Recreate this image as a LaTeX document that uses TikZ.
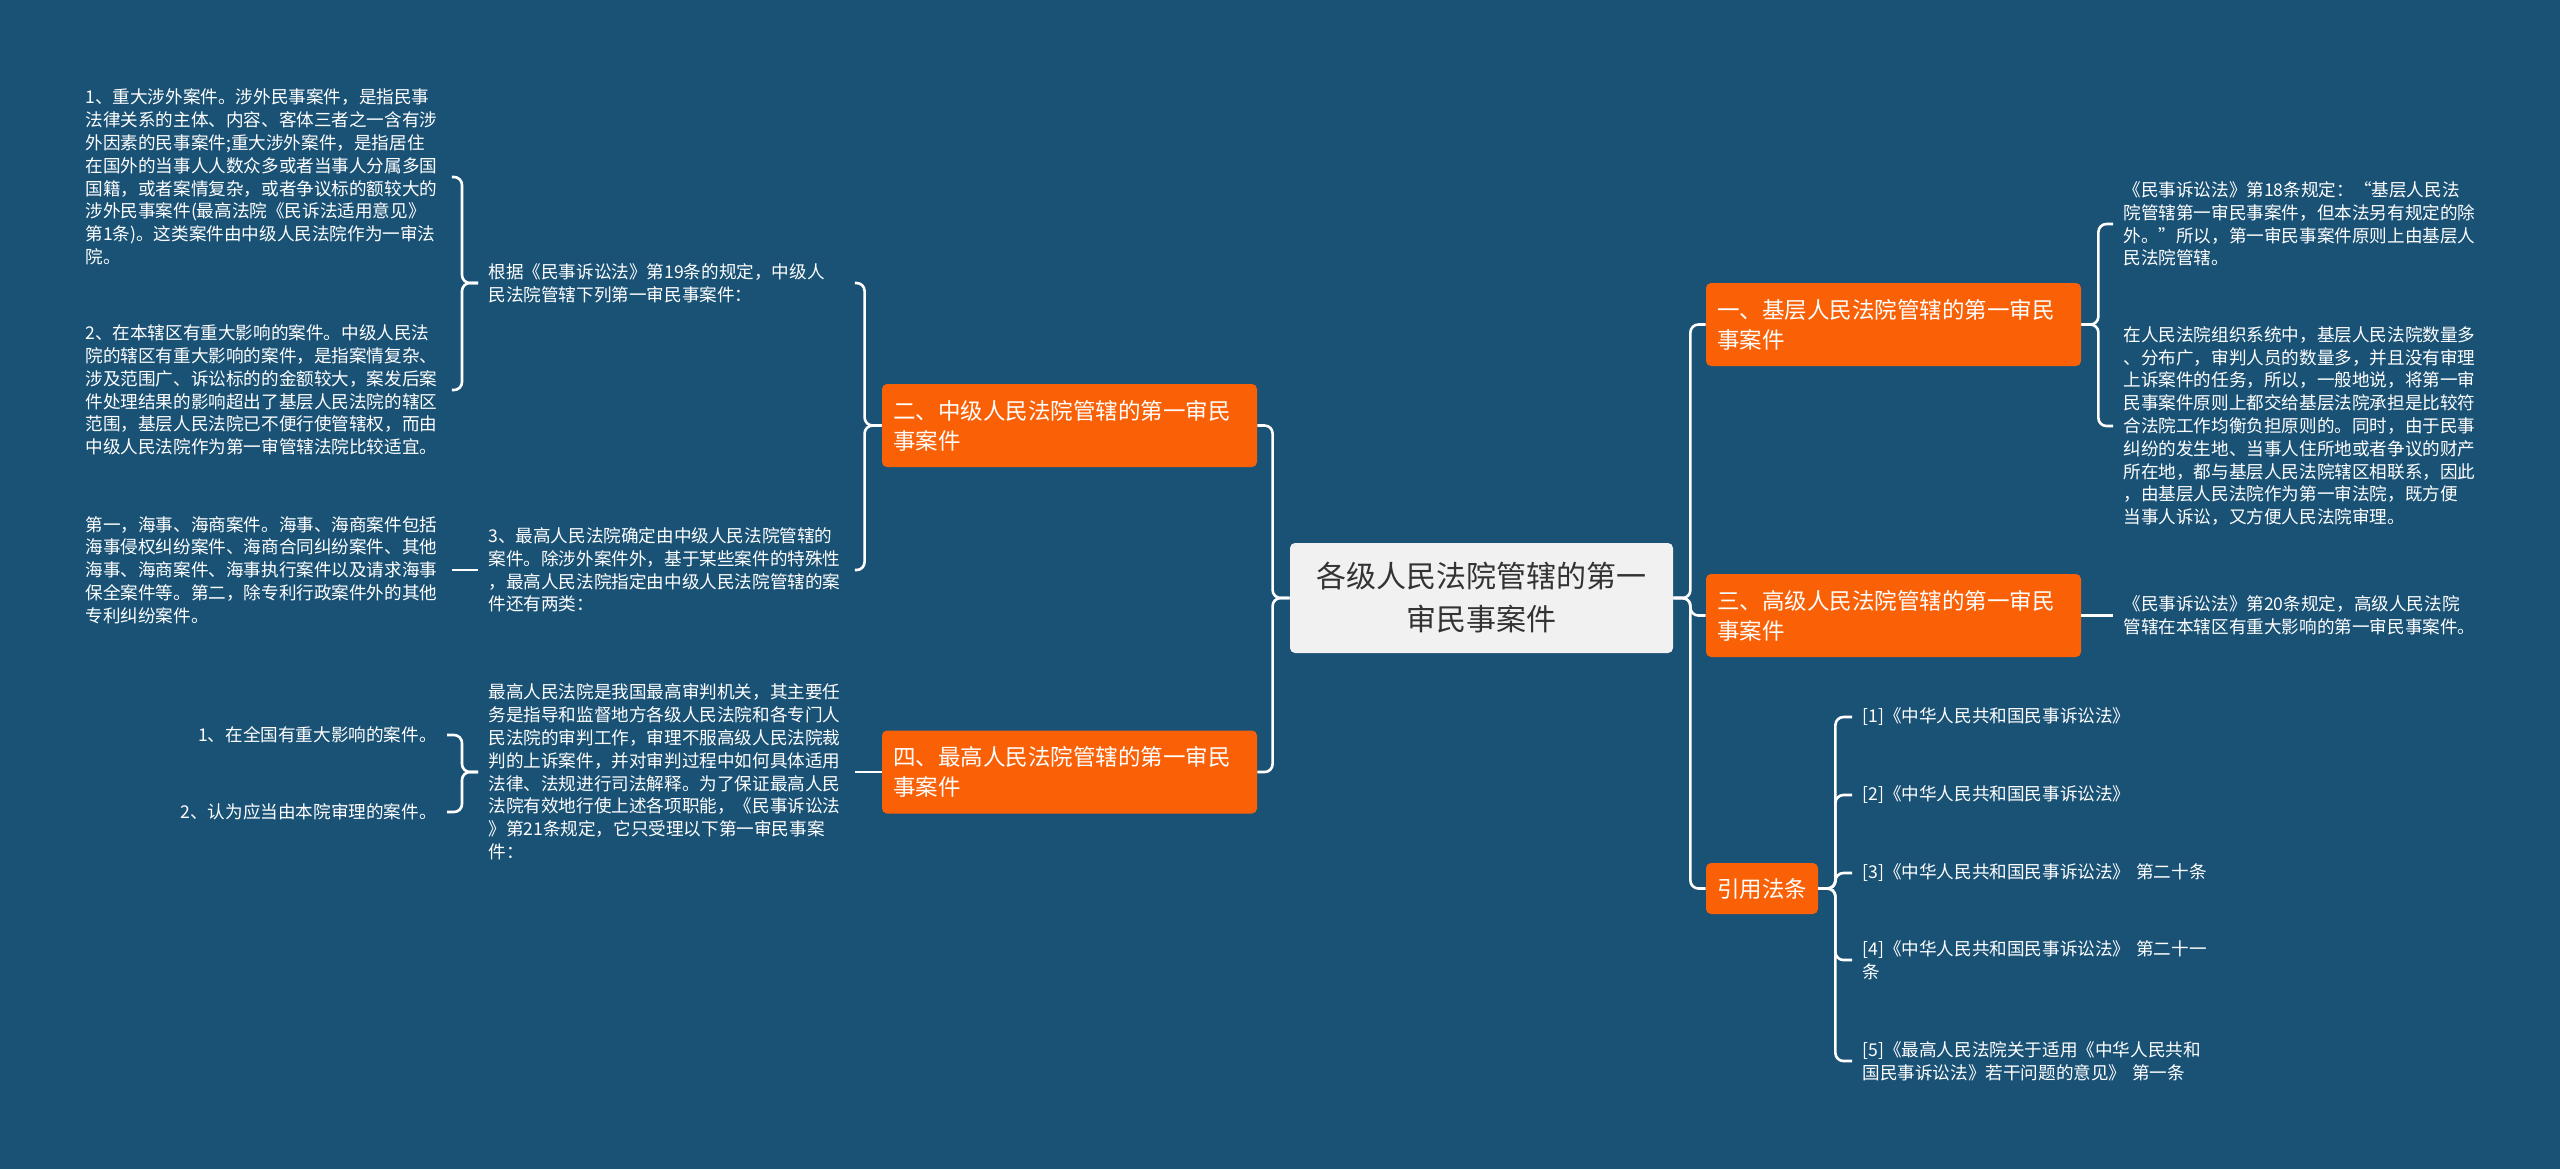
\documentclass[tikz,border=0pt]{standalone}
\usepackage{fontspec}
\setmainfont{Noto Sans CJK SC}
\usepackage{tikz}
\usetikzlibrary{positioning}
\usepackage{xcolor}
\definecolor{bgblue}{RGB}{26,82,118}
\definecolor{branchorange}{RGB}{250,96,6}
\definecolor{rootgray}{RGB}{241,241,241}
\definecolor{roottext}{RGB}{51,51,51}

\begin{document}
\begin{tikzpicture}[
    x=0.5pt, y=-0.5pt,
    root/.style={fill=rootgray, rounded corners=2.5pt, text=roottext, minimum width=191.5pt, minimum height=55pt, align=center, font=\fontsize{15}{21.5}\selectfont},
    branch/.style={fill=branchorange, rounded corners=2.5pt, text=white, inner xsep=5.5pt, minimum height=41.5pt, align=left, font=\fontsize{11.25}{15}\selectfont},
    wide/.style={text width=176.5pt},
    leaf/.style={text=white, inner xsep=5pt, align=left, font=\fontsize{8.8}{11.4}\selectfont},
    para/.style={leaf, text width=178pt},
    link/.style={draw=white, line width=1.3pt, rounded corners=4pt}
]

\fill[bgblue] (0,0) rectangle (2560,1169);

\node[root] (law) at (1481.5,598) {各级人民法院管辖的第一\\审民事案件};

\node[branch, wide] (mid) at (1069.5,425.5) {二、中级人民法院管辖的第一审民\\事案件};
\node[branch, wide] (top) at (1069.5,772) {四、最高人民法院管辖的第一审民\\事案件};
\node[branch, wide] (base) at (1893.5,324.5) {一、基层人民法院管辖的第一审民\\事案件};
\node[branch, wide] (high) at (1893.5,615.5) {三、高级人民法院管辖的第一审民\\事案件};
\node[branch, minimum height=25.5pt] (cite) at (1762,888.5) {引用法条};

\node[para, anchor=west] (art19) at (478,283) {根据《民事诉讼法》第19条的规定，中级人\\民法院管辖下列第一审民事案件：};
\node[para, anchor=west] (assign) at (478,570) {3、最高人民法院确定由中级人民法院管辖的\\案件。除涉外案件外，基于某些案件的特殊性\\，最高人民法院指定由中级人民法院管辖的案\\件还有两类：};
\node[para, anchor=west] (supreme) at (478,772) {最高人民法院是我国最高审判机关，其主要任\\务是指导和监督地方各级人民法院和各专门人\\民法院的审判工作，审理不服高级人民法院裁\\判的上诉案件，并对审判过程中如何具体适用\\法律、法规进行司法解释。为了保证最高人民\\法院有效地行使上述各项职能，《民事诉讼法\\》第21条规定，它只受理以下第一审民事案\\件：};

\node[para, anchor=west] (foreign) at (75,177) {1、重大涉外案件。涉外民事案件，是指民事\\法律关系的主体、内容、客体三者之一含有涉\\外因素的民事案件;重大涉外案件，是指居住\\在国外的当事人人数众多或者当事人分属多国\\国籍，或者案情复杂，或者争议标的额较大的\\涉外民事案件(最高法院《民诉法适用意见》\\第1条)。这类案件由中级人民法院作为一审法\\院。};
\node[para, anchor=west] (regional) at (75,390) {2、在本辖区有重大影响的案件。中级人民法\\院的辖区有重大影响的案件，是指案情复杂、\\涉及范围广、诉讼标的的金额较大，案发后案\\件处理结果的影响超出了基层人民法院的辖区\\范围，基层人民法院已不便行使管辖权，而由\\中级人民法院作为第一审管辖法院比较适宜。};
\node[para, anchor=west] (maritime) at (75,570) {第一，海事、海商案件。海事、海商案件包括\\海事侵权纠纷案件、海商合同纠纷案件、其他\\海事、海商案件、海事执行案件以及请求海事\\保全案件等。第二，除专利行政案件外的其他\\专利纠纷案件。};
\node[leaf, anchor=east] (nation) at (447,735) {1、在全国有重大影响的案件。};
\node[leaf, anchor=east] (self) at (447,812) {2、认为应当由本院审理的案件。};

\node[para, anchor=west] (art18) at (2113,224) {《民事诉讼法》第18条规定：“基层人民法\\院管辖第一审民事案件，但本法另有规定的除\\外。”所以，第一审民事案件原则上由基层人\\民法院管辖。};
\node[para, anchor=west] (system) at (2113,426) {在人民法院组织系统中，基层人民法院数量多\\、分布广，审判人员的数量多，并且没有审理\\上诉案件的任务，所以，一般地说，将第一审\\民事案件原则上都交给基层法院承担是比较符\\合法院工作均衡负担原则的。同时，由于民事\\纠纷的发生地、当事人住所地或者争议的财产\\所在地，都与基层人民法院辖区相联系，因此\\，由基层人民法院作为第一审法院，既方便\\当事人诉讼，又方便人民法院审理。};
\node[para, anchor=west] (art20) at (2113,615.5) {《民事诉讼法》第20条规定，高级人民法院\\管辖在本辖区有重大影响的第一审民事案件。};

\node[para, anchor=west] (ref1) at (1852,717) {[1]《中华人民共和国民事诉讼法》};
\node[para, anchor=west] (ref2) at (1852,795) {[2]《中华人民共和国民事诉讼法》};
\node[para, anchor=west] (ref3) at (1852,873) {[3]《中华人民共和国民事诉讼法》 第二十条};
\node[para, anchor=west] (ref4) at (1852,960) {[4]《中华人民共和国民事诉讼法》 第二十一\\条};
\node[para, anchor=west] (ref5) at (1852,1061) {[5]《最高人民法院关于适用《中华人民共和\\国民事诉讼法》若干问题的意见》 第一条};

\draw[link] (law.west) -- ++(-17,0) |- (mid.east);
\draw[link] (law.west) -- ++(-17,0) |- (top.east);
\draw[link] (law.east) -- ++(17,0) |- (base.west);
\draw[link] (law.east) -- ++(17,0) |- (high.west);
\draw[link] (law.east) -- ++(17,0) |- (cite.west);

\draw[link] (mid.west) -- ++(-17,0) |- (art19.east);
\draw[link] (mid.west) -- ++(-17,0) |- (assign.east);
\draw[link] (art19.west) -- ++(-16,0) |- (foreign.east);
\draw[link] (art19.west) -- ++(-16,0) |- (regional.east);
\draw[link] (assign.west) -- (maritime.east);
\draw[link] (top.west) -- (supreme.east);
\draw[link] (supreme.west) -- ++(-16,0) |- (nation.east);
\draw[link] (supreme.west) -- ++(-16,0) |- (self.east);

\draw[link] (base.east) -- ++(17,0) |- (art18.west);
\draw[link] (base.east) -- ++(17,0) |- (system.west);
\draw[link] (high.east) -- (art20.west);
\foreach \i in {1,...,5}
    \draw[link] (cite.east) -- ++(17,0) |- (ref\i.west);
\end{tikzpicture}
\end{document}
